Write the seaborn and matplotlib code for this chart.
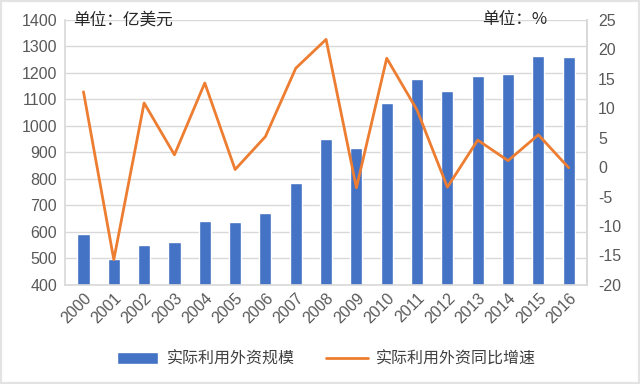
import matplotlib
matplotlib.use("Agg")
import matplotlib.pyplot as plt
import seaborn as sns
import pandas as pd
from matplotlib.patches import Patch, Rectangle
from matplotlib.lines import Line2D

years = [str(y) for y in range(2000, 2017)]
fdi_scale = [593.6, 496.7, 550.1, 561.4, 640.7, 638.1, 670.8, 783.4, 952.5,
             918.0, 1088.2, 1177.0, 1132.9, 1187.2, 1197.1, 1262.7, 1260.0]
fdi_growth = [12.8, -15.7, 10.9, 2.1, 14.3, -0.4, 5.2, 16.8, 21.7,
              -3.5, 18.5, 9.7, -3.4, 4.6, 1.1, 5.5, -0.1]
left_ticks = list(range(400, 1401, 100))
right_ticks = list(range(-20, 26, 5))

df = pd.DataFrame({"year": years, "scale": fdi_scale, "growth": fdi_growth})

bar_color = "#4472C4"
line_color = "#ED7D31"
text_color = "#595959"
grid_color = "#D9D9D9"

sns.set_theme(style="white")
plt.rcParams["font.family"] = ["Liberation Sans", "Noto Sans CJK SC", "DejaVu Sans"]
plt.rcParams["axes.unicode_minus"] = False

fig = plt.figure(figsize=(6.4, 3.84), dpi=100)
ax = fig.add_axes([0.102, 0.258, 0.815, 0.69])

sns.barplot(data=df, x="year", y="scale", color=bar_color, width=0.4,
            saturation=1, ax=ax, zorder=2)
ax.set_ylim(400, 1400)
ax.set_yticks(left_ticks)
ax.yaxis.grid(True, color=grid_color, linewidth=1, zorder=0)
ax.set_axisbelow(True)
ax.set_xlabel("")
ax.set_ylabel("")
ax.set_xlim(-0.6, 16.6)
ax.tick_params(axis="y", labelsize=11.5, colors=text_color, length=0, pad=6)
ax.tick_params(axis="x", labelsize=11.5, colors=text_color, length=0, pad=4)
plt.setp(ax.get_xticklabels(), rotation=45, ha="right", rotation_mode="anchor")
ax.spines["top"].set_visible(False)
for s in ["left", "right", "bottom"]:
    ax.spines[s].set_color(grid_color)

ax2 = ax.twinx()
sns.pointplot(data=df, x="year", y="growth", color=line_color, markers="",
              linewidth=2, ax=ax2)
ax2.set_ylim(-20, 25)
ax2.set_yticks(right_ticks)
ax2.set_xlim(-0.6, 16.6)
ax2.set_ylabel("")
ax2.set_xlabel("")
ax2.tick_params(axis="y", labelsize=11.5, colors=text_color, length=0, pad=8)
for s in ["top", "left", "bottom"]:
    ax2.spines[s].set_visible(False)
ax2.spines["right"].set_color(grid_color)

ax.text(0.015, 1.0, "单位：亿美元", transform=ax.transAxes, fontsize=12,
        color="#262626", va="center", ha="left",
        family=["Noto Sans CJK SC", "DejaVu Sans"])
ax.text(0.8, 1.0, "单位：%", transform=ax.transAxes, fontsize=12,
        color="#262626", va="center", ha="left",
        family=["Noto Sans CJK SC", "DejaVu Sans"])

handles = [Patch(facecolor=bar_color, label="实际利用外资规模"),
           Line2D([0], [0], color=line_color, linewidth=2, label="实际利用外资同比增速")]
fig.legend(handles=handles, loc="center", bbox_to_anchor=(0.51, 0.065), ncol=2,
           frameon=False, handlelength=2.6, handleheight=0.7, columnspacing=2.0,
           handletextpad=0.5,
           prop={"family": ["Noto Sans CJK SC", "DejaVu Sans"], "size": 11.5},
           labelcolor="#404040")

fig.patches.append(Rectangle((0, 0), 1, 1, transform=fig.transFigure,
                             fill=False, edgecolor="#E3E3E3", linewidth=3))

fig.savefig("out.png", dpi=100)
